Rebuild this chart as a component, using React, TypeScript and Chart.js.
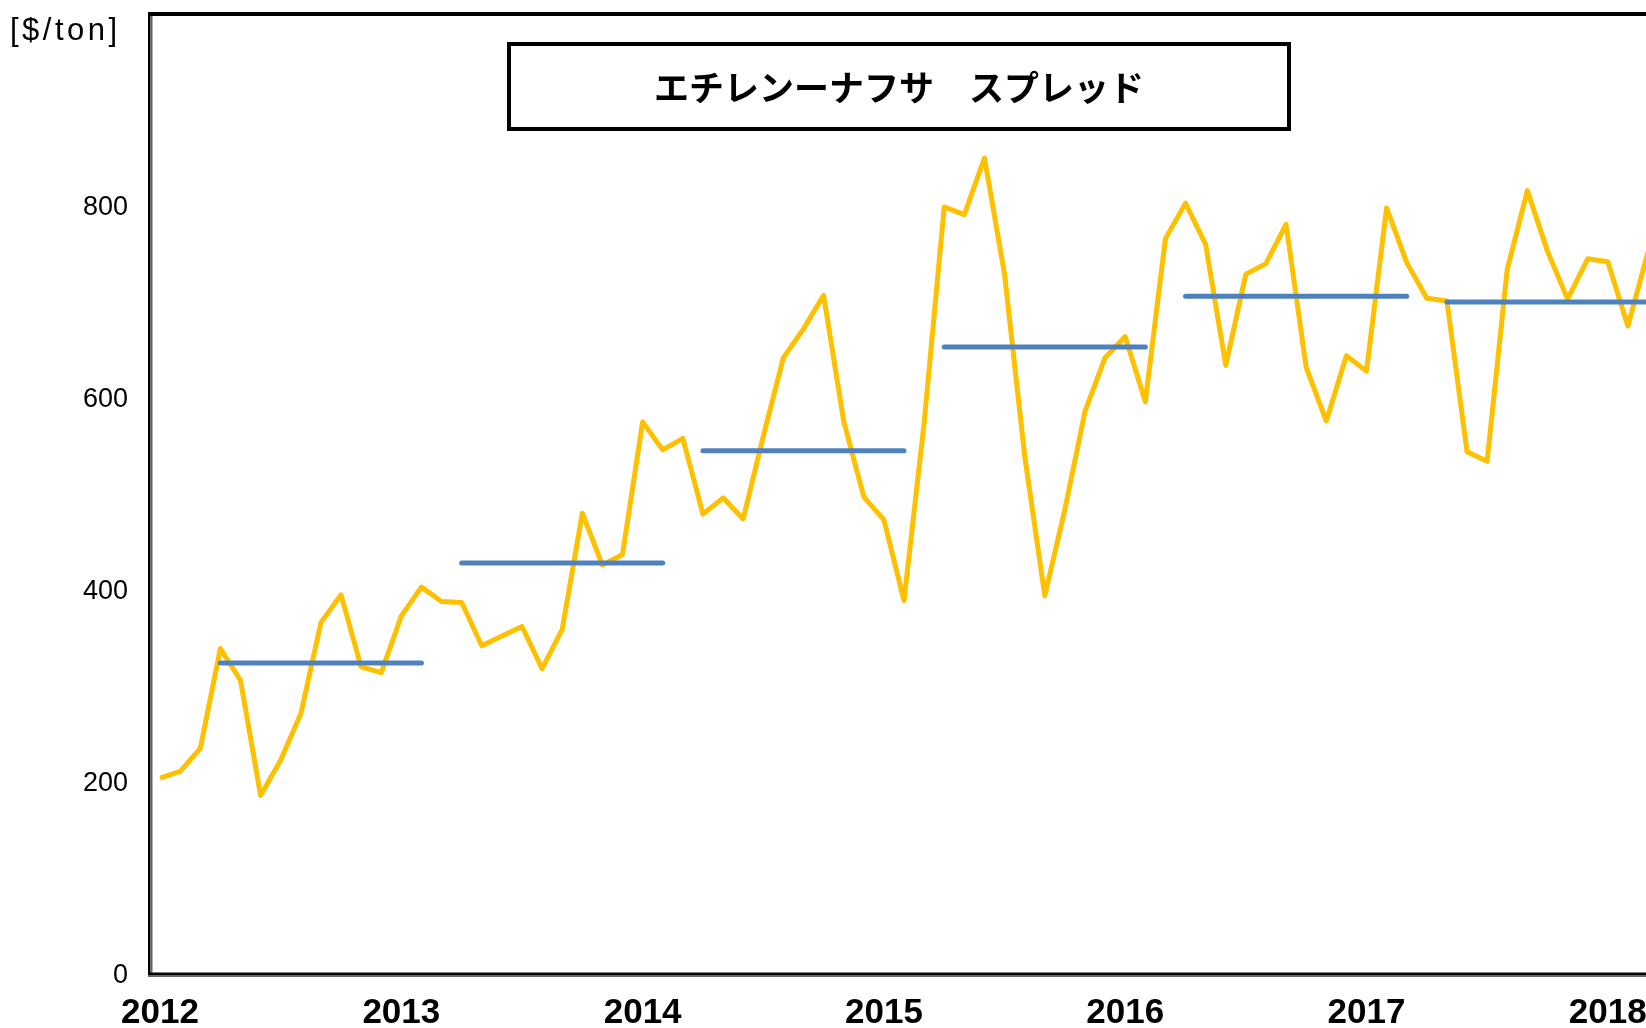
import React, { useEffect, useRef } from 'react';
import { Chart, registerables } from 'chart.js';

Chart.register(...registerables);

// ---- data ----
const yearLabels = ['2012', '2013', '2014', '2015', '2016', '2017', '2018'];
const yearTickMonths = [0, 12, 24, 36, 48, 60, 72];
// monthly ethylene - naphtha spread, Jan 2012 onward [$/ton]
const spread = [
  204, 211, 235, 339, 306, 186, 223, 271, 366, 395, 320, 314,
  373, 403, 388, 387, 342, 352, 362, 318, 359, 480, 426, 437,
  575, 546, 558, 479, 496, 474, 560, 642, 672, 707, 576, 497,
  473, 389, 574, 799, 791, 850, 729, 540, 394, 484, 586, 642,
  664, 596, 766, 803, 760, 634, 729, 740, 781, 632, 576, 644,
  628, 798, 741, 704, 701, 544, 534, 734, 816, 753, 703, 745,
  742, 675, 752,
];
// annual averages (month index start / end, value)
const avgStart = [3, 15, 27, 39, 51, 64];
const avgEnd = [13, 25, 37, 49, 62, 76];
const avgValue = [324, 428, 545, 653, 706, 700];
const yTicks = [0, 200, 400, 600, 800];
const titleText = 'エチレンーナフサ　スプレッド';
const unitText = '[$/ton]';

export default function App() {
  const ref = useRef<HTMLCanvasElement>(null);

  useEffect(() => {
    const canvas = ref.current;
    if (!canvas) return;

    const spreadPoints = spread.map((v, i) => ({ x: i, y: v }));
    const avgPoints: { x: number; y: number | null }[] = [];
    avgStart.forEach((s, k) => {
      avgPoints.push({ x: s, y: avgValue[k] });
      avgPoints.push({ x: avgEnd[k], y: avgValue[k] });
      if (k < avgStart.length - 1) {
        avgPoints.push({ x: (avgEnd[k] + avgStart[k + 1]) / 2, y: null });
      }
    });

    const deco = {
      id: 'deco',
      afterDraw(chart: any) {
        const { ctx, chartArea } = chart;
        const { left, top, right, bottom } = chartArea;
        ctx.save();
        // frame: top
        ctx.fillStyle = '#000';
        ctx.fillRect(left - 2, top - 2, right - left + 4, 4);
        // left axis: black + grey
        ctx.fillStyle = '#000';
        ctx.fillRect(left - 2, top - 2, 2.5, bottom - top + 5);
        ctx.fillStyle = '#666';
        ctx.fillRect(left + 0.5, top + 2, 2, bottom - top - 1);
        // bottom axis: black + grey
        ctx.fillStyle = '#000';
        ctx.fillRect(left - 2, bottom - 1.5, right - left + 4, 2.5);
        ctx.fillStyle = '#666';
        ctx.fillRect(left - 2, bottom + 1, right - left + 4, 2);

        // title box
        ctx.fillStyle = '#fff';
        ctx.fillRect(509, 44, 780, 85);
        ctx.strokeStyle = '#000';
        ctx.lineWidth = 4;
        ctx.strokeRect(509, 44, 780, 85);
        ctx.fillStyle = '#000';
        ctx.font = 'bold 35px "Noto Sans CJK JP", sans-serif';
        ctx.textAlign = 'center';
        ctx.textBaseline = 'middle';
        ctx.fillText(titleText, 899, 88);

        // unit label
        ctx.font = '31px "Liberation Sans", Arial, sans-serif';
        (ctx as any).letterSpacing = '3.5px';
        ctx.textAlign = 'left';
        ctx.textBaseline = 'middle';
        ctx.fillText(unitText, 10, 31);
        (ctx as any).letterSpacing = '0px';
        ctx.restore();
      },
    };

    const chart = new Chart(canvas, {
      type: 'line',
      data: {
        datasets: [
          {
            label: 'avg',
            data: avgPoints as any,
            borderColor: '#4F81BD',
            borderWidth: 5,
            borderCapStyle: 'round',
            pointRadius: 0,
            tension: 0,
            spanGaps: false,
          },
          {
            label: 'spread',
            data: spreadPoints,
            borderColor: '#FFC000',
            borderWidth: 5,
            borderJoinStyle: 'round',
            pointRadius: 0,
            tension: 0,
          },
        ],
      },
      options: {
        responsive: false,
        animation: false,
        parsing: true,
        layout: { padding: { left: 0, top: 14, right: 21, bottom: 0 } },
        plugins: {
          legend: { display: false },
          tooltip: { enabled: false },
          title: { display: false },
        },
        scales: {
          x: {
            type: 'linear',
            min: -0.5,
            max: 83.5,
            afterBuildTicks: (s: any) => {
              s.ticks = yearTickMonths.map((v) => ({ value: v }));
            },
            afterFit: (s: any) => {
              s.height = 54;
              s.paddingLeft = 0;
              s.paddingRight = 0;
            },
            grid: { display: false, drawTicks: false },
            border: { display: false },
            ticks: {
              autoSkip: false,
              maxRotation: 0,
              padding: 18,
              color: '#000',
              font: { family: '"Liberation Sans", Arial, sans-serif', size: 35, weight: 'bold' },
              callback: (v: any) => {
                const i = yearTickMonths.indexOf(Number(v));
                return i >= 0 ? yearLabels[i] : '';
              },
            },
          },
          y: {
            type: 'linear',
            min: 0,
            max: 1000,
            afterBuildTicks: (s: any) => {
              s.ticks = yTicks.map((v) => ({ value: v }));
            },
            afterFit: (s: any) => {
              s.width = 150;
              s.paddingTop = 0;
              s.paddingBottom = 0;
            },
            grid: { display: false, drawTicks: false },
            border: { display: false },
            ticks: {
              padding: 22,
              labelOffset: 2,
              color: '#000',
              font: { family: '"Liberation Sans", Arial, sans-serif', size: 27 },
            },
          },
        },
      },
      plugins: [deco],
    });

    return () => chart.destroy();
  }, []);

  return (
    <div
      style={{
        position: 'absolute',
        left: 0,
        top: 0,
        width: 1646,
        height: 1028,
        overflow: 'hidden',
        background: '#fff',
      }}
    >
      <canvas ref={ref} width={1860} height={1028} style={{ display: 'block' }} />
    </div>
  );
}
